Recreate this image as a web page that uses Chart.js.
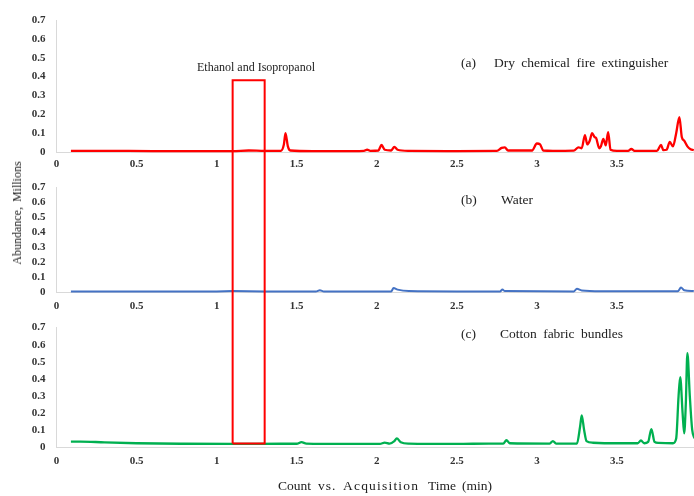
<!DOCTYPE html>
<html>
<head>
<meta charset="utf-8">
<script src="https://cdn.jsdelivr.net/npm/chart.js@4/dist/chart.umd.min.js"></script>
<style>
  html, body { margin:0; padding:0; width:694px; height:496px; overflow:hidden; background:#fff; }
  canvas { position:absolute; left:0; }
  .t { position:absolute; font-family:"Liberation Serif","Times New Roman",serif; color:#222; white-space:pre; line-height:1; }
</style>
</head>
<body>
<canvas id="ca" width="720" height="170" style="top:0px"></canvas>
<canvas id="cb" width="720" height="140" style="top:170px"></canvas>
<canvas id="cc" width="720" height="186" style="top:310px"></canvas>

<div class="t" style="left:197px;top:61px;font-size:12px;">Ethanol and Isopropanol</div>
<div class="t" style="left:461px;top:56px;font-size:13.5px;">(a)</div>
<div class="t" style="left:494px;top:56px;font-size:13.5px;word-spacing:3px;">Dry chemical fire extinguisher</div>
<div class="t" style="left:461px;top:193px;font-size:13.5px;">(b)</div>
<div class="t" style="left:501px;top:193px;font-size:13.5px;">Water</div>
<div class="t" style="left:461px;top:327px;font-size:13.5px;">(c)</div>
<div class="t" style="left:500px;top:327px;font-size:13.5px;word-spacing:3px;">Cotton fabric bundles</div>
<div class="t" style="left:278px;top:479px;font-size:13.5px;">Count</div>
<div class="t" style="left:318px;top:479px;font-size:13.5px;letter-spacing:1px;">vs.</div>
<div class="t" style="left:343px;top:479px;font-size:13.5px;letter-spacing:1.2px;">Acquisition</div>
<div class="t" style="left:428px;top:479px;font-size:13.5px;">Time</div>
<div class="t" style="left:462px;top:479px;font-size:13.5px;">(min)</div>
<div class="t" style="left:17px;top:213px;font-size:12px;word-spacing:2px;transform:translate(-50%,-50%) rotate(-90deg);">Abundance, Millions</div>

<script>
// ---- data (time in min, abundance in millions) ----
const xTicks = [0, 0.5, 1, 1.5, 2, 2.5, 3, 3.5, 4];
const yTicks = [0, 0.1, 0.2, 0.3, 0.4, 0.5, 0.6, 0.7];

const timeA = [0.09,0.3,0.6,0.9,1.1,1.2,1.3,1.40,1.42,1.43,1.445,1.46,1.6,1.85,1.92,1.94,1.96,2.01,2.03,2.05,2.09,2.11,2.13,2.2,2.5,2.75,2.78,2.80,2.82,2.97,3.00,3.02,3.04,3.1,3.23,3.26,3.28,3.30,3.315,3.33,3.345,3.36,3.37,3.39,3.40,3.415,3.43,3.445,3.46,3.5,3.57,3.59,3.61,3.75,3.775,3.79,3.81,3.83,3.85,3.87,3.89,3.905,3.92,3.94,3.96,3.98];
const dryChemical = [0.006,0.006,0.005,0.005,0.005,0.008,0.006,0.006,0.04,0.10,0.03,0.008,0.005,0.005,0.006,0.012,0.006,0.008,0.037,0.012,0.008,0.027,0.012,0.006,0.005,0.006,0.022,0.024,0.008,0.008,0.045,0.040,0.008,0.006,0.007,0.025,0.02,0.09,0.04,0.06,0.10,0.08,0.074,0.02,0.03,0.07,0.035,0.105,0.012,0.006,0.006,0.016,0.006,0.006,0.037,0.01,0.012,0.053,0.03,0.10,0.185,0.08,0.06,0.03,0.015,0.01];

const timeB = [0.09,0.5,1.0,1.1,1.3,1.62,1.645,1.67,2.09,2.105,2.13,2.2,2.5,2.77,2.785,2.80,3.23,3.25,3.28,3.4,3.88,3.90,3.92,3.98];
const water = [0.004,0.004,0.004,0.006,0.004,0.004,0.012,0.004,0.004,0.026,0.016,0.006,0.004,0.004,0.016,0.006,0.004,0.021,0.01,0.005,0.005,0.03,0.012,0.006];

const timeC = [0.09,0.15,0.3,0.5,0.8,1.1,1.4,1.50,1.53,1.56,1.8,2.02,2.05,2.08,2.11,2.125,2.15,2.2,2.5,2.7,2.79,2.81,2.83,3.08,3.10,3.12,3.25,3.27,3.28,3.295,3.31,3.35,3.5,3.63,3.65,3.67,3.695,3.715,3.735,3.76,3.85,3.87,3.885,3.895,3.91,3.92,3.93,3.94,3.955,3.97,3.985];
const cotton = [0.031,0.032,0.027,0.022,0.019,0.018,0.019,0.019,0.028,0.02,0.018,0.018,0.026,0.02,0.035,0.05,0.028,0.02,0.018,0.02,0.02,0.04,0.022,0.02,0.035,0.02,0.02,0.12,0.185,0.1,0.035,0.025,0.022,0.022,0.038,0.022,0.03,0.105,0.03,0.024,0.022,0.05,0.3,0.41,0.2,0.08,0.25,0.55,0.3,0.1,0.05];

// highlighted region (min / millions)
const boxStart = 1.10, boxEnd = 1.30, boxTop = 0.38, boxBottom = 0.02;

const SERIF = '"Liberation Serif","Times New Roman",serif';

const boxPlugin = {
  id: 'regionBox',
  afterDatasetsDraw(chart, args, opts) {
    const {ctx} = chart;
    const xs = chart.scales.x, ys = chart.scales.y;
    const l = xs.getPixelForValue(boxStart), r = xs.getPixelForValue(boxEnd);
    const t = opts.top != null ? ys.getPixelForValue(opts.top) : -2;
    const b = opts.bottom != null ? ys.getPixelForValue(opts.bottom) : chart.height + 2;
    ctx.save();
    ctx.strokeStyle = '#ff0000';
    ctx.lineWidth = 2;
    ctx.beginPath();
    ctx.moveTo(l, b); ctx.lineTo(l, t);
    if (opts.top != null) ctx.lineTo(r, t); else ctx.moveTo(r, t);
    ctx.lineTo(r, b);
    if (opts.bottom != null) ctx.lineTo(l, b);
    ctx.stroke();
    ctx.restore();
  }
};

function makeChart(id, times, values, color, cfg) {
  const pts = times.map((t, i) => ({x: t, y: values[i]}));
  return new Chart(document.getElementById(id), {
    type: 'line',
    data: { datasets: [{ data: pts, borderColor: color, borderWidth: cfg.lw, pointRadius: 0,
      tension: 0.4, cubicInterpolationMode: 'monotone', clip: false }] },
    options: {
      responsive: false, animation: false, devicePixelRatio: 1,
      layout: { padding: { top: cfg.top, left: 0, right: 23, bottom: 0 } },
      plugins: { legend: {display:false}, tooltip: {enabled:false}, regionBox: cfg.box },
      scales: {
        x: { type: 'linear', min: 0, max: 4,
          afterBuildTicks(s) { s.ticks = xTicks.map(v => ({value: v})); },
          afterFit(s) { s.height = cfg.xh; },
          grid: { display: false, drawTicks: false },
          border: { color: '#d9d9d9', width: 1 },
          ticks: { padding: cfg.xpad, color: '#333', maxRotation: 0, autoSkip: false,
            callback: v => String(v),
            font: { family: SERIF, size: 11, weight: 'bold' } } },
        y: { min: 0, max: 0.7,
          afterBuildTicks(s) { s.ticks = yTicks.map(v => ({value: v})); },
          afterFit(s) { s.width = 56.5; },
          grid: { display: false, drawTicks: false },
          border: { color: '#d9d9d9', width: 1 },
          ticks: { padding: 11, color: '#333', autoSkip: false, callback: v => String(v),
            font: { family: SERIF, size: 11, weight: 'bold' } } }
      }
    },
    plugins: [boxPlugin]
  });
}

makeChart('ca', timeA, dryChemical, '#ff0000', { lw: 2.3, top: 20, xh: 18, xpad: 6, box: { top: boxTop, bottom: null } });
makeChart('cb', timeB, water, '#4472c4', { lw: 2, top: 11, xh: 18, xpad: 8, box: { top: null, bottom: null } });
makeChart('cc', timeC, cotton, '#00b050', { lw: 2.3, top: 11, xh: 49, xpad: 8, box: { top: null, bottom: boxBottom } });
</script>
</body>
</html>
